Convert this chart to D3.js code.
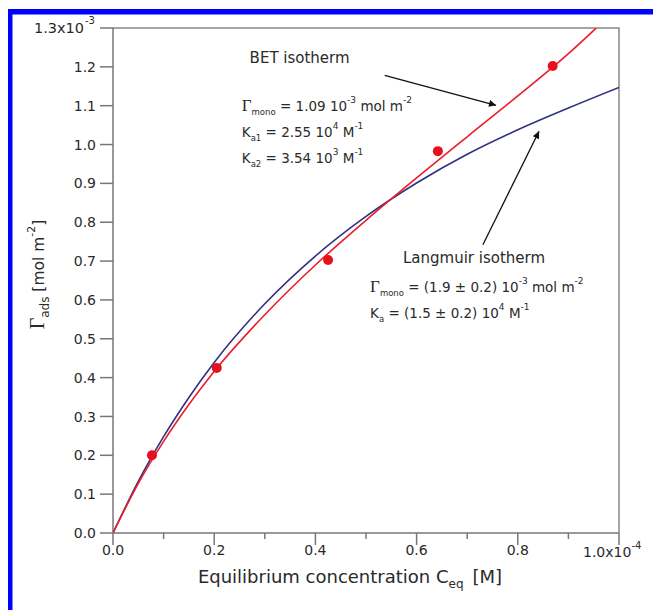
<!DOCTYPE html>
<html>
<head>
<meta charset="utf-8">
<script src="https://cdn.jsdelivr.net/npm/d3@7"></script>
<style>
  body { margin: 0; background: #fff; }
  svg { display: block; }
  text { font-family: "DejaVu Sans", Verdana, sans-serif; fill: #2a2a2a; }
  .gamma { font-family: "Liberation Serif", "DejaVu Serif", serif; }
</style>
</head>
<body>
<svg id="chart" width="653" height="610"></svg>
<script>
// measured points (C in 1e-4 M, Gamma in 1e-3 mol m^-2)
const concData = [0.077, 0.205, 0.425, 0.642, 0.869];
const gammaData = [0.200, 0.425, 0.703, 0.983, 1.202];

// BET fit
const betConc = [0, 0.05, 0.1, 0.15, 0.2, 0.3, 0.4, 0.5, 0.6, 0.7, 0.8, 0.9, 0.955];
const betGamma = [0, 0.128, 0.236, 0.331, 0.416, 0.562, 0.690, 0.805, 0.914, 1.020, 1.125, 1.234, 1.300];

// Langmuir fit
const langConc = [0, 0.05, 0.1, 0.15, 0.2, 0.3, 0.4, 0.5, 0.6, 0.7, 0.8, 0.9, 1.0];
const langGamma = [0, 0.133, 0.248, 0.349, 0.439, 0.590, 0.713, 0.815, 0.901, 0.975, 1.038, 1.094, 1.147];

const xTicks = [0, 0.2, 0.4, 0.6, 0.8, 1.0];
const xMinorTicks = [0.1, 0.3, 0.5, 0.7, 0.9];
const yTicks = d3.range(0, 14).map(i => i / 10);

const margin = { left: 113, top: 28, right: 34, bottom: 77 };
const width = 653 - margin.left - margin.right;
const height = 610 - margin.top - margin.bottom;

const svg = d3.select('#chart');

// blue frame of the figure
svg.append('rect').attr('x', 8).attr('y', 9).attr('width', 645).attr('height', 5.5).attr('fill', '#0000ff');
svg.append('rect').attr('x', 8).attr('y', 9).attr('width', 4.5).attr('height', 601).attr('fill', '#0000ff');

const main = svg.append('g')
  .attr('transform', `translate(${margin.left},${margin.top})`);

const x = d3.scaleLinear().domain([0, 1]).range([0, width]);
const y = d3.scaleLinear().domain([0, 1.3]).range([height, 0]);

// plot box (top + right)
main.append('path')
  .attr('d', `M0,0H${width}V${height}`)
  .attr('fill', 'none')
  .attr('stroke', '#888')
  .attr('stroke-width', 1.5);

// x axis
const xAxis = main.append('g').attr('transform', `translate(0,${height})`);
xAxis.append('line').attr('x1', 0).attr('x2', width).attr('stroke', '#777').attr('stroke-width', 1.5);
xAxis.selectAll('.major').data(xTicks).enter().append('line')
  .attr('class', 'major')
  .attr('x1', d => x(d)).attr('x2', d => x(d))
  .attr('y1', 0).attr('y2', 12)
  .attr('stroke', '#777').attr('stroke-width', 1.5);
xAxis.selectAll('.minor').data(xMinorTicks).enter().append('line')
  .attr('class', 'minor')
  .attr('x1', d => x(d)).attr('x2', d => x(d))
  .attr('y1', 0).attr('y2', 6)
  .attr('stroke', '#777').attr('stroke-width', 1.5);
xAxis.selectAll('.xlab').data(xTicks.slice(0, -1)).enter().append('text')
  .attr('class', 'xlab')
  .attr('x', d => x(d)).attr('y', 22)
  .attr('text-anchor', 'middle')
  .attr('font-size', 14)
  .text(d => d.toFixed(1));
const lastX = xAxis.append('text')
  .attr('x', x(1) - 36).attr('y', 24)
  .attr('font-size', 14);
lastX.append('tspan').text('1.0x10');
lastX.append('tspan').attr('dy', -8).attr('font-size', 10).text('-4');

// y axis
const yAxis = main.append('g');
yAxis.append('line').attr('y1', 0).attr('y2', height).attr('stroke', '#777').attr('stroke-width', 1.5);
yAxis.selectAll('.tick').data(yTicks).enter().append('line')
  .attr('class', 'tick')
  .attr('x1', -13).attr('x2', 0)
  .attr('y1', d => y(d)).attr('y2', d => y(d))
  .attr('stroke', '#777').attr('stroke-width', 1.5);
yAxis.selectAll('.ylab').data(yTicks.slice(0, -1)).enter().append('text')
  .attr('class', 'ylab')
  .attr('x', -17).attr('y', d => y(d)).attr('dy', '0.36em')
  .attr('text-anchor', 'end')
  .attr('font-size', 14)
  .text(d => d.toFixed(1));
const lastY = yAxis.append('text')
  .attr('x', -29).attr('y', y(1.3)).attr('dy', '0.36em')
  .attr('text-anchor', 'end')
  .attr('font-size', 14.5);
lastY.append('tspan').text('1.3x10');
yAxis.append('text')
  .attr('x', -28).attr('y', y(1.3) - 4)
  .attr('font-size', 10)
  .text('-3');

// axis titles
const xTitle = main.append('text')
  .attr('x', width / 2 - 16).attr('y', height + 50)
  .attr('text-anchor', 'middle')
  .attr('font-size', 18);
xTitle.append('tspan').text('Equilibrium concentration C');
xTitle.append('tspan').attr('dy', 5).attr('font-size', 12).text('eq');
xTitle.append('tspan').attr('dy', -5).text('\u2002[M]');

const yTitle = svg.append('text')
  .attr('transform', `translate(44,${margin.top + height / 2 - 6}) rotate(-90)`)
  .attr('text-anchor', 'middle')
  .attr('font-size', 15.5);
yTitle.append('tspan').attr('class', 'gamma').attr('font-size', 20).text('\u0393');
yTitle.append('tspan').attr('dy', 5).attr('font-size', 12).text('ads');
yTitle.append('tspan').attr('dy', -5).text(' [mol m');
yTitle.append('tspan').attr('dy', -9).attr('font-size', 11).text('-2');
yTitle.append('tspan').attr('dy', 9).text(']');

// curves
const clip = main.append('clipPath').attr('id', 'plotClip');
clip.append('rect').attr('width', width).attr('height', height);

const line = d3.line()
  .curve(d3.curveMonotoneX)
  .x(d => x(d[0]))
  .y(d => y(d[1]));

main.append('path')
  .datum(d3.zip(langConc, langGamma))
  .attr('clip-path', 'url(#plotClip)')
  .attr('fill', 'none')
  .attr('stroke', '#2e3280')
  .attr('stroke-width', 1.6)
  .attr('d', line);

main.append('path')
  .datum(d3.zip(betConc, betGamma))
  .attr('clip-path', 'url(#plotClip)')
  .attr('fill', 'none')
  .attr('stroke', '#ee1c2a')
  .attr('stroke-width', 1.6)
  .attr('d', line);

main.selectAll('.pt').data(d3.zip(concData, gammaData)).enter().append('circle')
  .attr('class', 'pt')
  .attr('cx', d => x(d[0]))
  .attr('cy', d => y(d[1]))
  .attr('r', 5)
  .attr('fill', '#e8101e');

// arrows
const defs = svg.append('defs');
defs.append('marker')
  .attr('id', 'arrow')
  .attr('viewBox', '0 0 10 10')
  .attr('refX', 10).attr('refY', 5)
  .attr('markerWidth', 9).attr('markerHeight', 7)
  .attr('markerUnits', 'userSpaceOnUse')
  .attr('orient', 'auto')
  .append('path')
  .attr('d', 'M0,0L10,5L0,10Z')
  .attr('fill', '#111');

const arrow = (c1, g1, c2, g2) => main.append('line')
  .attr('x1', x(c1)).attr('y1', y(g1))
  .attr('x2', x(c2)).attr('y2', y(g2))
  .attr('stroke', '#111')
  .attr('stroke-width', 1.3)
  .attr('marker-end', 'url(#arrow)');

arrow(0.537, 1.178, 0.757, 1.101);
arrow(0.731, 0.742, 0.842, 1.034);

// annotations
const rich = (c, g, parts) => {
  const t = main.append('text')
    .attr('x', x(c)).attr('y', y(g))
    .attr('font-size', 13.5);
  let shift = 0;
  parts.forEach(([txt, mode]) => {
    const target = mode === 'sub' ? 4 : mode === 'sup' ? -8 : 0;
    const s = t.append('tspan').attr('dy', target - shift).text(txt);
    shift = target;
    if (mode === 'sub') s.attr('font-size', 8.5);
    if (mode === 'sup') s.attr('font-size', 9);
    if (mode === 'G') s.attr('class', 'gamma').attr('font-size', 17);
  });
  return t;
};

rich(0.27, 1.209, [['BET isotherm']]).attr('font-size', 15);
rich(0.2545, 1.087, [['\u0393', 'G'], ['mono', 'sub'], [' = 1.09 10'], ['-3', 'sup'], [' mol m'], ['-2', 'sup']]);
rich(0.2545, 1.020, [['K'], ['a1', 'sub'], [' = 2.55 10'], ['4', 'sup'], [' M'], ['-1', 'sup']]);
rich(0.2545, 0.953, [['K'], ['a2', 'sub'], [' = 3.54 10'], ['3', 'sup'], [' M'], ['-1', 'sup']]);

rich(0.573, 0.696, [['Langmuir isotherm']]).attr('font-size', 15);
rich(0.508, 0.620, [['\u0393', 'G'], ['mono', 'sub'], [' = (1.9 \u00b1 0.2) 10'], ['-3', 'sup'], [' mol m'], ['-2', 'sup']]);
rich(0.508, 0.553, [['K'], ['a', 'sub'], [' = (1.5 \u00b1 0.2) 10'], ['4', 'sup'], [' M'], ['-1', 'sup']]);
</script>
</body>
</html>
